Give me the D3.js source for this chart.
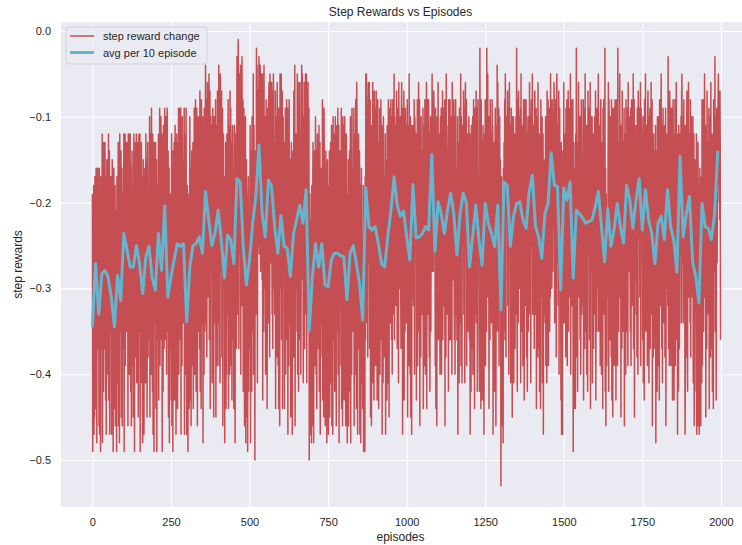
<!DOCTYPE html>
<html>
<head>
<meta charset="utf-8">
<script src="https://cdn.jsdelivr.net/npm/d3@7"></script>
<style>
  html, body { margin: 0; padding: 0; background: #ffffff; }
  svg { display: block; font-family: "Liberation Sans", Arial, sans-serif; }
</style>
</head>
<body>
<svg id="chart" width="742" height="545"></svg>
<script>
// ---- chart text ----
const chartTitle = "Step Rewards vs Episodes";
const xLabel = "episodes";
const yLabel = "step rewards";
const seriesNames = ["step reward change", "avg per 10 episode"];

// ---- ticks ----
const xTicks = [0, 250, 500, 750, 1000, 1250, 1500, 1750, 2000];
const yTicks = [0.0, -0.1, -0.2, -0.3, -0.4, -0.5];

// ---- step reward per episode (episodes 0..1999, ten per row) ----
const stepRewards = [
-.19,-.49,-.27,-.44,-.18,-.47,-.31,-.45,-.17,-.34,
-.44,-.18,-.16,-.31,-.48,-.17,-.35,-.16,-.37,-.21,
-.28,-.46,-.16,-.47,-.22,-.35,-.49,-.17,-.25,-.37,
-.36,-.12,-.48,-.16,-.24,-.42,-.13,-.34,-.37,-.18,
-.13,-.35,-.43,-.17,-.47,-.20,-.15,-.40,-.23,-.27,
-.33,-.12,-.43,-.38,-.14,-.47,-.21,-.17,-.35,-.26,
-.17,-.47,-.34,-.15,-.43,-.25,-.49,-.22,-.16,-.40,
-.44,-.29,-.18,-.46,-.21,-.41,-.30,-.49,-.17,-.36,
-.23,-.41,-.13,-.46,-.17,-.30,-.48,-.12,-.20,-.32,
-.35,-.14,-.45,-.40,-.16,-.46,-.23,-.19,-.37,-.28,
-.12,-.49,-.17,-.34,-.12,-.39,-.21,-.35,-.13,-.24,
-.35,-.20,-.13,-.46,-.12,-.32,-.21,-.40,-.12,-.27,
-.12,-.34,-.42,-.16,-.46,-.19,-.14,-.39,-.22,-.26,
-.45,-.19,-.12,-.32,-.49,-.14,-.36,-.13,-.38,-.22,
-.12,-.41,-.28,-.13,-.37,-.19,-.45,-.16,-.12,-.34,
-.35,-.12,-.49,-.15,-.23,-.41,-.13,-.33,-.36,-.17,
-.48,-.22,-.15,-.35,-.47,-.17,-.39,-.16,-.41,-.25,
-.12,-.33,-.41,-.15,-.45,-.18,-.13,-.38,-.21,-.25,
-.36,-.20,-.10,-.45,-.12,-.33,-.21,-.40,-.09,-.27,
-.24,-.42,-.12,-.47,-.18,-.31,-.49,-.13,-.21,-.33,
-.34,-.13,-.44,-.39,-.15,-.49,-.22,-.18,-.36,-.27,
-.12,-.43,-.17,-.34,-.09,-.39,-.21,-.35,-.10,-.24,
-.36,-.12,-.49,-.16,-.24,-.42,-.11,-.34,-.37,-.18,
-.09,-.36,-.23,-.10,-.32,-.14,-.40,-.11,-.09,-.29,
-.35,-.14,-.45,-.40,-.16,-.48,-.23,-.19,-.37,-.28,
-.25,-.43,-.12,-.46,-.18,-.30,-.49,-.14,-.21,-.33,
-.13,-.43,-.30,-.11,-.39,-.21,-.47,-.18,-.12,-.36,
-.13,-.44,-.18,-.35,-.09,-.40,-.22,-.36,-.09,-.25,
-.33,-.09,-.47,-.13,-.21,-.39,-.10,-.31,-.34,-.15,
-.34,-.21,-.09,-.47,-.12,-.31,-.22,-.40,-.09,-.26,
-.47,-.25,-.18,-.38,-.49,-.20,-.42,-.19,-.44,-.28,
-.10,-.34,-.43,-.16,-.46,-.19,-.14,-.39,-.22,-.27,
-.13,-.44,-.18,-.35,-.09,-.40,-.22,-.36,-.08,-.25,
-.42,-.16,-.09,-.29,-.46,-.11,-.33,-.10,-.35,-.19,
-.19,-.37,-.07,-.42,-.13,-.26,-.44,-.08,-.16,-.28,
-.34,-.10,-.48,-.14,-.22,-.40,-.09,-.32,-.35,-.16,
-.04,-.26,-.34,-.08,-.38,-.11,-.06,-.31,-.14,-.18,
-.26,-.05,-.36,-.31,-.07,-.44,-.14,-.10,-.28,-.19,
-.11,-.41,-.28,-.09,-.37,-.19,-.45,-.16,-.10,-.34,
-.34,-.19,-.08,-.45,-.11,-.31,-.20,-.39,-.07,-.26,
-.16,-.34,-.04,-.39,-.10,-.23,-.41,-.05,-.13,-.25,
-.28,-.07,-.38,-.33,-.09,-.46,-.16,-.12,-.30,-.21,
-.17,-.48,-.22,-.39,-.13,-.44,-.26,-.40,-.12,-.29,
-.33,-.20,-.08,-.44,-.11,-.32,-.19,-.40,-.07,-.26,
-.09,-.31,-.39,-.13,-.43,-.16,-.11,-.36,-.19,-.23,
-.44,-.18,-.11,-.31,-.48,-.13,-.35,-.12,-.37,-.21,
-.03,-.33,-.20,-.06,-.01,-.11,-.37,-.08,-.05,-.26,
-.26,-.04,-.40,-.06,-.14,-.32,-.03,-.24,-.27,-.08,
-.42,-.16,-.09,-.29,-.46,-.11,-.33,-.10,-.48,-.19,
-.15,-.37,-.45,-.19,-.49,-.22,-.17,-.42,-.25,-.29,
-.37,-.22,-.11,-.48,-.14,-.34,-.23,-.42,-.10,-.29,
-.17,-.35,-.05,-.40,-.11,-.24,-.20,-.50,-.14,-.26,
-.23,-.33,-.02,-.28,-.04,-.41,-.11,-.07,-.25,-.16,
-.03,-.26,-.06,-.23,-.04,-.28,-.10,-.24,-.05,-.13,
-.29,-.05,-.43,-.09,-.17,-.35,-.04,-.27,-.30,-.11,
-.10,-.40,-.27,-.08,-.36,-.18,-.44,-.15,-.09,-.33,
-.34,-.08,-.06,-.21,-.38,-.05,-.25,-.06,-.27,-.11,
-.06,-.25,-.33,-.07,-.37,-.10,-.05,-.30,-.13,-.17,
-.33,-.18,-.07,-.44,-.10,-.30,-.19,-.38,-.06,-.25,
-.21,-.39,-.09,-.44,-.15,-.28,-.46,-.05,-.18,-.30,
-.26,-.05,-.36,-.31,-.07,-.44,-.14,-.10,-.28,-.19,
-.13,-.44,-.18,-.35,-.09,-.40,-.22,-.36,-.08,-.25,
-.33,-.09,-.47,-.13,-.21,-.39,-.08,-.31,-.34,-.15,
-.15,-.45,-.32,-.13,-.41,-.23,-.47,-.20,-.14,-.38,
-.28,-.07,-.38,-.33,-.04,-.46,-.16,-.12,-.30,-.21,
-.17,-.35,-.05,-.40,-.11,-.24,-.42,-.06,-.14,-.26,
-.06,-.36,-.23,-.40,-.32,-.14,-.04,-.11,-.05,-.29,
-.10,-.41,-.15,-.32,-.06,-.37,-.19,-.33,-.05,-.22,
-.27,-.05,-.41,-.07,-.15,-.33,-.06,-.25,-.28,-.09,
-.50,-.30,-.19,-.47,-.22,-.42,-.31,-.48,-.18,-.37,
-.46,-.20,-.13,-.33,-.48,-.15,-.37,-.14,-.39,-.23,
-.10,-.32,-.40,-.14,-.44,-.17,-.12,-.37,-.20,-.24,
-.32,-.11,-.42,-.37,-.13,-.47,-.20,-.16,-.34,-.25,
-.20,-.38,-.08,-.43,-.14,-.27,-.45,-.09,-.17,-.29,
-.16,-.46,-.33,-.14,-.42,-.24,-.48,-.21,-.15,-.39,
-.18,-.47,-.23,-.40,-.14,-.45,-.27,-.41,-.13,-.30,
-.35,-.11,-.46,-.15,-.23,-.47,-.10,-.33,-.36,-.17,
-.12,-.42,-.29,-.10,-.38,-.20,-.46,-.17,-.11,-.35,
-.30,-.09,-.40,-.35,-.11,-.48,-.18,-.14,-.32,-.23,
-.21,-.39,-.09,-.44,-.15,-.28,-.46,-.10,-.18,-.30,
-.11,-.43,-.29,-.10,-.37,-.21,-.46,-.16,-.12,-.35,
-.19,-.48,-.24,-.41,-.15,-.46,-.28,-.42,-.14,-.31,
-.34,-.10,-.48,-.14,-.22,-.40,-.09,-.32,-.35,-.16,
-.35,-.20,-.09,-.46,-.12,-.32,-.21,-.40,-.08,-.27,
-.44,-.06,-.11,-.31,-.47,-.13,-.35,-.12,-.37,-.21,
-.14,-.47,-.44,-.18,-.48,-.21,-.16,-.41,-.24,-.28,
-.44,-.29,-.18,-.49,-.21,-.41,-.30,-.49,-.17,-.36,
-.05,-.34,-.05,-.21,-.30,-.12,-.38,-.09,-.06,-.27,
-.27,-.06,-.37,-.32,-.08,-.45,-.15,-.11,-.46,-.20,
-.18,-.36,-.06,-.41,-.12,-.25,-.43,-.07,-.15,-.27,
-.09,-.39,-.26,-.07,-.35,-.17,-.43,-.14,-.08,-.32,
-.13,-.44,-.18,-.35,-.09,-.40,-.22,-.36,-.08,-.25,
-.35,-.11,-.47,-.15,-.23,-.41,-.10,-.33,-.36,-.17,
-.38,-.23,-.12,-.47,-.15,-.35,-.24,-.43,-.11,-.30,
-.41,-.15,-.08,-.28,-.45,-.10,-.32,-.09,-.34,-.18,
-.08,-.28,-.36,-.10,-.40,-.13,-.08,-.33,-.16,-.20,
-.05,-.36,-.10,-.27,-.11,-.32,-.14,-.28,-.07,-.17,
-.37,-.11,-.09,-.24,-.41,-.06,-.28,-.12,-.30,-.14,
-.10,-.29,-.37,-.11,-.06,-.14,-.09,-.47,-.17,-.41,
-.29,-.07,-.43,-.09,-.17,-.35,-.09,-.27,-.30,-.11,
-.34,-.19,-.08,-.45,-.11,-.31,-.20,-.39,-.05,-.26,
-.22,-.40,-.10,-.45,-.16,-.29,-.47,-.11,-.19,-.31,
-.22,-.11,-.32,-.27,-.08,-.40,-.10,-.13,-.24,-.15,
-.12,-.43,-.17,-.34,-.08,-.39,-.21,-.35,-.06,-.24,
-.32,-.08,-.46,-.12,-.20,-.38,-.10,-.30,-.33,-.14,
-.33,-.20,-.09,-.44,-.11,-.30,-.21,-.39,-.08,-.26,
-.40,-.14,-.27,-.06,-.44,-.09,-.31,-.08,-.33,-.17,
-.08,-.30,-.38,-.12,-.42,-.15,-.10,-.35,-.18,-.22,
-.18,-.05,-.28,-.23,-.11,-.28,-.07,-.09,-.20,-.11,
-.21,-.39,-.09,-.44,-.15,-.28,-.46,-.10,-.18,-.30,
-.06,-.36,-.23,-.12,-.32,-.14,-.40,-.11,-.10,-.29,
-.09,-.40,-.14,-.31,-.07,-.36,-.18,-.32,-.09,-.21,
-.32,-.08,-.46,-.12,-.20,-.38,-.05,-.30,-.33,-.14,
-.31,-.16,-.11,-.42,-.08,-.28,-.17,-.36,-.08,-.23,
-.36,-.10,-.13,-.23,-.40,-.06,-.27,-.10,-.29,-.13,
-.08,-.28,-.36,-.10,-.40,-.13,-.08,-.33,-.16,-.20,
-.36,-.21,-.10,-.47,-.13,-.33,-.22,-.41,-.09,-.28,
-.16,-.34,-.05,-.39,-.10,-.23,-.41,-.11,-.13,-.25,
-.23,-.07,-.33,-.28,-.09,-.41,-.11,-.06,-.25,-.16,
-.08,-.39,-.13,-.30,-.12,-.35,-.17,-.31,-.10,-.20,
-.36,-.12,-.47,-.16,-.24,-.42,-.11,-.34,-.37,-.18,
-.10,-.40,-.27,-.08,-.36,-.18,-.44,-.15,-.09,-.33,
-.24,-.07,-.34,-.29,-.09,-.42,-.12,-.08,-.26,-.17,
-.19,-.37,-.42,-.02,-.13,-.26,-.44,-.08,-.16,-.28,
-.13,-.43,-.30,-.11,-.39,-.21,-.47,-.18,-.12,-.36,
-.08,-.39,-.13,-.30,-.35,-.02,-.17,-.31,-.05,-.20,
-.30,-.11,-.44,-.10,-.18,-.36,-.08,-.28,-.31,-.12,
-.34,-.19,-.08,-.29,-.11,-.47,-.20,-.39,-.13,-.26,
-.42,-.16,-.09,-.29,-.46,-.11,-.33,-.35,-.04,-.19,
-.06,-.27,-.35,-.09,-.39,-.12,-.10,-.32,-.15,-.19,
-.53,-.28,-.17,-.46,-.20,-.40,-.29,-.48,-.16,-.35,
-.13,-.31,-.08,-.36,-.05,-.20,-.38,-.11,-.10,-.22,
-.22,-.07,-.32,-.27,-.09,-.40,-.10,-.06,-.24,-.15,
-.11,-.41,-.28,-.09,-.37,-.19,-.45,-.16,-.10,-.34,
-.10,-.41,-.15,-.32,-.12,-.37,-.19,-.33,-.10,-.22,
-.02,-.28,-.42,-.08,-.16,-.34,-.07,-.26,-.29,-.10,
-.30,-.15,-.09,-.41,-.05,-.27,-.16,-.35,-.11,-.22,
-.39,-.13,-.08,-.26,-.43,-.08,-.30,-.13,-.32,-.16,
-.08,-.30,-.38,-.12,-.42,-.15,-.10,-.35,-.18,-.22,
-.23,-.06,-.33,-.28,-.10,-.41,-.11,-.08,-.25,-.16,
-.05,-.33,-.20,-.11,-.29,-.11,-.37,-.08,-.07,-.26,
-.33,-.18,-.09,-.44,-.10,-.30,-.19,-.38,-.06,-.25,
-.19,-.37,-.12,-.42,-.13,-.26,-.44,-.08,-.16,-.28,
-.31,-.10,-.41,-.36,-.12,-.47,-.19,-.15,-.33,-.24,
-.16,-.34,-.10,-.39,-.10,-.23,-.41,-.07,-.13,-.25,
-.08,-.39,-.13,-.30,-.09,-.35,-.17,-.31,-.05,-.20,
-.22,-.11,-.30,-.08,-.10,-.28,-.13,-.20,-.23,-.06,
-.10,-.34,-.21,-.08,-.30,-.12,-.38,-.09,-.05,-.27,
-.22,-.11,-.32,-.27,-.07,-.40,-.10,-.09,-.24,-.15,
-.25,-.43,-.13,-.47,-.19,-.32,-.47,-.14,-.22,-.34,
-.06,-.34,-.21,-.12,-.30,-.12,-.38,-.09,-.10,-.27,
-.08,-.39,-.13,-.30,-.07,-.35,-.17,-.31,-.09,-.20,
-.26,-.05,-.40,-.11,-.14,-.32,-.08,-.24,-.27,-.08,
-.49,-.24,-.13,-.44,-.16,-.36,-.25,-.44,-.12,-.31,
-.02,-.12,-.38,-.25,-.42,-.13,-.29,-.06,-.31,-.15,
-.10,-.28,-.36,-.10,-.40,-.13,-.08,-.33,-.16,-.20,
-.32,-.17,-.08,-.43,-.09,-.29,-.18,-.37,-.05,-.24,
-.17,-.35,-.11,-.40,-.11,-.24,-.42,-.07,-.14,-.26,
-.26,-.09,-.36,-.31,-.06,-.44,-.14,-.10,-.28,-.19,
-.10,-.41,-.15,-.32,-.12,-.37,-.19,-.33,-.10,-.22,
-.29,-.07,-.43,-.09,-.17,-.35,-.09,-.27,-.30,-.11,
-.05,-.35,-.22,-.11,-.31,-.13,-.39,-.10,-.08,-.28,
-.40,-.14,-.13,-.27,-.44,-.09,-.31,-.08,-.33,-.17,
-.30,-.02,-.42,-.16,-.46,-.19,-.26,-.39,-.22,-.26,
-.31,-.16,-.06,-.42,-.08,-.28,-.17,-.36,-.10,-.23,
-.20,-.38,-.08,-.43,-.14,-.27,-.45,-.09,-.17,-.29,
-.09,-.39,-.26,-.08,-.35,-.17,-.43,-.14,-.08,-.32,
-.08,-.39,-.02,-.30,-.13,-.35,-.17,-.31,-.05,-.20,
-.31,-.11,-.45,-.11,-.19,-.37,-.07,-.29,-.32,-.13,
-.35,-.20,-.09,-.46,-.12,-.32,-.21,-.40,-.08,-.27,
-.35,-.09,-.09,-.22,-.39,-.06,-.26,-.12,-.28,-.12,
-.10,-.27,-.35,-.09,-.39,-.12,-.08,-.32,-.15,-.19,
-.27,-.05,-.37,-.32,-.08,-.45,-.15,-.11,-.29,-.20,
-.15,-.33,-.11,-.38,-.09,-.22,-.40,-.07,-.12,-.24,
-.21,-.09,-.31,-.26,-.06,-.39,-.09,-.12,-.23,-.14,
-.18,-.36,-.10,-.41,-.12,-.25,-.43,-.08,-.15,-.27,
-.05,-.35,-.22,-.11,-.31,-.13,-.39,-.10,-.07,-.28,
-.10,-.41,-.15,-.32,-.09,-.37,-.19,-.33,-.06,-.22,
-.32,-.08,-.46,-.12,-.20,-.38,-.12,-.30,-.33,-.14,
-.37,-.22,-.11,-.48,-.14,-.34,-.23,-.42,-.10,-.29,
-.39,-.13,-.10,-.26,-.43,-.08,-.30,-.08,-.32,-.16,
-.05,-.29,-.37,-.11,-.41,-.14,-.09,-.34,-.17,-.21,
-.28,-.11,-.38,-.33,-.09,-.46,-.16,-.12,-.30,-.21,
-.14,-.32,-.03,-.37,-.08,-.21,-.39,-.07,-.11,-.23,
-.09,-.39,-.26,-.09,-.35,-.17,-.43,-.14,-.08,-.32,
-.12,-.43,-.17,-.34,-.08,-.39,-.21,-.35,-.06,-.24,
-.36,-.12,-.47,-.16,-.24,-.42,-.11,-.34,-.37,-.18,
-.12,-.18,-.26,-.10,-.34,-.08,-.05,-.27,-.10,-.14,
-.34,-.19,-.08,-.30,-.11,-.31,-.47,-.39,-.11,-.26,
-.38,-.12,-.07,-.25,-.42,-.09,-.29,-.06,-.31,-.15,
-.12,-.26,-.34,-.08,-.38,-.11,-.10,-.31,-.14,-.18,
-.31,-.10,-.41,-.36,-.12,-.46,-.19,-.15,-.33,-.24,
-.24,-.42,-.12,-.47,-.18,-.31,-.46,-.13,-.21,-.33,
-.18,-.47,-.35,-.16,-.44,-.26,-.46,-.23,-.17,-.41,
-.08,-.39,-.13,-.30,-.08,-.35,-.17,-.31,-.05,-.20,
-.31,-.11,-.45,-.11,-.19,-.37,-.07,-.29,-.32,-.13,
-.33,-.18,-.09,-.44,-.10,-.30,-.19,-.38,-.06,-.25,
-.19,-.37,-.12,-.42,-.13,-.26,-.44,-.08,-.16,-.28,
-.25,-.03,-.35,-.30,-.10,-.43,-.13,-.09,-.27,-.18,
-.20,-.08,-.05,-.18,-.09,-.11,-.22,-.07,-.14,-.36
];

// ---- average step reward per block of 10 episodes (episodes 0, 10, ..., 1990) ----
const avgEvery = 10;
const avgPer10 = [
-.344,-.271,-.330,-.283,-.279,-.287,-.310,-.345,-.285,-.314,
-.236,-.255,-.275,-.275,-.250,-.271,-.306,-.263,-.251,-.287,
-.302,-.236,-.279,-.204,-.310,-.287,-.267,-.248,-.251,-.248,
-.339,-.275,-.250,-.248,-.240,-.259,-.187,-.220,-.250,-.236,
-.209,-.243,-.288,-.238,-.243,-.271,-.172,-.176,-.251,-.296,
-.267,-.224,-.193,-.133,-.213,-.240,-.174,-.181,-.228,-.259,
-.215,-.251,-.253,-.286,-.236,-.220,-.203,-.224,-.185,-.349,
-.286,-.248,-.275,-.248,-.296,-.298,-.267,-.259,-.259,-.262,
-.263,-.313,-.259,-.250,-.271,-.294,-.337,-.183,-.228,-.232,
-.228,-.248,-.271,-.275,-.240,-.209,-.170,-.203,-.216,-.210,
-.240,-.267,-.179,-.241,-.240,-.236,-.228,-.232,-.144,-.257,
-.199,-.213,-.236,-.209,-.189,-.213,-.261,-.213,-.189,-.200,
-.275,-.240,-.203,-.243,-.273,-.201,-.224,-.236,-.251,-.203,
-.325,-.176,-.180,-.251,-.216,-.201,-.199,-.220,-.230,-.187,
-.168,-.228,-.240,-.265,-.213,-.201,-.142,-.180,-.181,-.302,
-.183,-.197,-.176,-.288,-.209,-.213,-.218,-.224,-.222,-.220,
-.205,-.187,-.228,-.269,-.207,-.251,-.232,-.201,-.228,-.247,
-.180,-.197,-.230,-.197,-.172,-.232,-.185,-.220,-.236,-.271,
-.224,-.216,-.243,-.185,-.228,-.243,-.281,-.146,-.240,-.213,
-.193,-.269,-.286,-.317,-.201,-.228,-.230,-.243,-.213,-.141
];

// ---- layout ----
const width = 742, height = 545;
const plotLeft = 61, plotTop = 22, plotRight = 752, plotBottom = 507;
const textColor = "#262626";
const bgColor = "#EAEAF2";
const redColor = "#C44E52";
const blueColor = "#64B5CD";

const svg = d3.select("#chart");

const x = d3.scaleLinear().domain([-100, 2099]).range([plotLeft, plotRight]);
const y = d3.scaleLinear().domain([-0.5548, 0.0105]).range([plotBottom, plotTop]);

// plotting area background
svg.append("rect")
  .attr("x", plotLeft).attr("y", plotTop)
  .attr("width", plotRight - plotLeft).attr("height", plotBottom - plotTop)
  .attr("fill", bgColor);

svg.append("clipPath").attr("id", "plot-clip")
  .append("rect")
  .attr("x", plotLeft).attr("y", plotTop)
  .attr("width", plotRight - plotLeft).attr("height", plotBottom - plotTop);

// white grid lines
const grid = svg.append("g").attr("class", "grid");
grid.append("g")
  .attr("transform", `translate(0,${plotBottom})`)
  .call(d3.axisBottom(x).tickValues(xTicks).tickSize(-(plotBottom - plotTop)).tickFormat(""))
  .call(g => g.select(".domain").remove())
  .call(g => g.selectAll("line").attr("stroke", "#ffffff").attr("stroke-width", 1.1));
grid.append("g")
  .attr("transform", `translate(${plotLeft},0)`)
  .call(d3.axisLeft(y).tickValues(yTicks).tickSize(-(plotRight - plotLeft)).tickFormat(""))
  .call(g => g.select(".domain").remove())
  .call(g => g.selectAll("line").attr("stroke", "#ffffff").attr("stroke-width", 1.1));

// tick labels
const fmtY = d3.format(".1f");
svg.append("g")
  .attr("transform", `translate(0,${plotBottom})`)
  .call(d3.axisBottom(x).tickValues(xTicks).tickSize(0).tickPadding(11).tickFormat(d3.format("d")))
  .call(g => g.select(".domain").remove())
  .call(g => g.selectAll("text").attr("fill", textColor).attr("font-size", 11)
    .attr("font-family", "Liberation Sans, Arial, sans-serif"));
svg.append("g")
  .attr("transform", `translate(${plotLeft},0)`)
  .call(d3.axisLeft(y).tickValues(yTicks).tickSize(0).tickPadding(10).tickFormat(fmtY))
  .call(g => g.select(".domain").remove())
  .call(g => g.selectAll("text").attr("fill", textColor).attr("font-size", 11)
    .attr("font-family", "Liberation Sans, Arial, sans-serif"));

// series
const plotArea = svg.append("g").attr("clip-path", "url(#plot-clip)");

const stepLine = d3.line()
  .x((d, i) => x(i))
  .y(d => y(d));
plotArea.append("path")
  .datum(stepRewards)
  .attr("d", stepLine)
  .attr("fill", "none")
  .attr("stroke", redColor)
  .attr("stroke-width", 1.5)
  .attr("stroke-linejoin", "round");

const avgLine = d3.line()
  .x((d, i) => x(i * avgEvery))
  .y(d => y(d));
plotArea.append("path")
  .datum(avgPer10)
  .attr("d", avgLine)
  .attr("fill", "none")
  .attr("stroke", blueColor)
  .attr("stroke-width", 3)
  .attr("stroke-linejoin", "round")
  .attr("stroke-linecap", "round");

// title and axis labels
svg.append("text")
  .attr("x", (plotLeft + plotRight) / 2 - 6).attr("y", 16)
  .attr("text-anchor", "middle").attr("font-size", 12).attr("fill", textColor)
  .text(chartTitle);
svg.append("text")
  .attr("x", (plotLeft + plotRight) / 2 - 6).attr("y", 541)
  .attr("text-anchor", "middle").attr("font-size", 12).attr("fill", textColor)
  .text(xLabel);
svg.append("text")
  .attr("transform", `translate(22,${(plotTop + plotBottom) / 2}) rotate(-90)`)
  .attr("text-anchor", "middle").attr("font-size", 12).attr("fill", textColor)
  .text(yLabel);

// legend
const legend = svg.append("g").attr("transform", "translate(66,27)");
legend.append("rect")
  .attr("x", 0).attr("y", 0).attr("width", 141).attr("height", 37)
  .attr("rx", 3).attr("ry", 3)
  .attr("fill", bgColor).attr("fill-opacity", 0.85)
  .attr("stroke", "#d2d2d8").attr("stroke-width", 1);
const legendItems = [
  { name: seriesNames[0], color: redColor, w: 1.5 },
  { name: seriesNames[1], color: blueColor, w: 3 }
];
legendItems.forEach((item, i) => {
  const ly = 9 + i * 16.5;
  legend.append("line")
    .attr("x1", 4).attr("x2", 28).attr("y1", ly).attr("y2", ly)
    .attr("stroke", item.color).attr("stroke-width", item.w);
  legend.append("text")
    .attr("x", 37).attr("y", ly + 4)
    .attr("font-size", 11).attr("fill", textColor)
    .text(item.name);
});
</script>
</body>
</html>
